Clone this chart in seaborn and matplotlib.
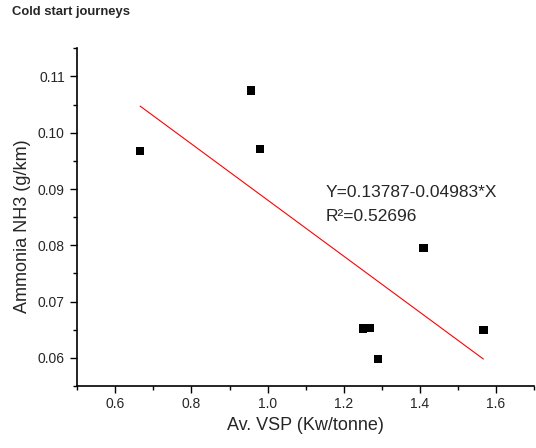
import matplotlib
matplotlib.use("Agg")
import matplotlib.pyplot as plt
import seaborn as sns
import pandas as pd
import numpy as np
from matplotlib.ticker import MultipleLocator

# values
vsp = [0.665, 0.956, 0.980, 1.250, 1.269, 1.290, 1.410, 1.567]
nh3 = [0.0968, 0.1075, 0.0971, 0.0652, 0.0653, 0.0598, 0.0795, 0.0649]
intercept = 0.13787
slope = -0.04983
r_squared = 0.52696

sns.set_style("ticks")
plt.rcParams['font.family'] = ['Liberation Sans', 'DejaVu Sans']

df = pd.DataFrame({'vsp': vsp, 'nh3': nh3})
fit_x = np.array([min(vsp), max(vsp)])
fit = pd.DataFrame({'x': fit_x, 'y': intercept + slope * fit_x})

fig = plt.figure(figsize=(5.36, 4.48), dpi=100)
ax = fig.add_axes([0.1442, 0.1384, 0.8521, 0.7538])

sns.lineplot(data=fit, x='x', y='y', color='red', linewidth=0.8, ax=ax)
sns.scatterplot(data=df, x='vsp', y='nh3', marker='s', s=36, color='black',
                edgecolor='none', ax=ax, zorder=3)

ax.set_xlim(0.5, 1.7)
ax.set_ylim(0.055, 0.115)
ax.xaxis.set_minor_locator(MultipleLocator(0.1))
ax.yaxis.set_minor_locator(MultipleLocator(0.005))
ax.set_xticks([0.6, 0.8, 1.0, 1.2, 1.4, 1.6])
ax.set_xticklabels(['0.6', '0.8', '1.0', '1.2', '1.4', '1.6'])
ax.set_yticks([0.06, 0.07, 0.08, 0.09, 0.10, 0.11])
ax.set_yticklabels(['0.06', '0.07', '0.08', '0.09', '0.10', '0.11'])

ax.tick_params(which='major', length=5, width=1, labelsize=10, color='black')
ax.tick_params(which='minor', length=3, width=1, color='black')
ax.tick_params(axis='x', which='major', pad=3)
ax.tick_params(axis='y', which='major', pad=4)
for s in ['left', 'bottom']:
    ax.spines[s].set_linewidth(1.2)
    ax.spines[s].set_color('black')
sns.despine(ax=ax)

ax.set_xlabel('Av. VSP (Kw/tonne)', fontsize=13)
ax.set_ylabel('Ammonia NH3 (g/km)', fontsize=13)
ax.yaxis.set_label_coords(-0.102, 0.472)

ax.text(1.152, 0.0886, 'Y=0.13787-0.04983*X', fontsize=12.5, va='baseline')
ax.text(1.152, 0.0843, 'R\u00b2=%.5f' % r_squared, fontsize=12.5, va='baseline')

fig.text(12 / 536, 1 - 12 / 448, 'Cold start journeys', fontsize=9.4,
         fontweight='bold', va='center', ha='left')

fig.savefig('out.png', dpi=100)
